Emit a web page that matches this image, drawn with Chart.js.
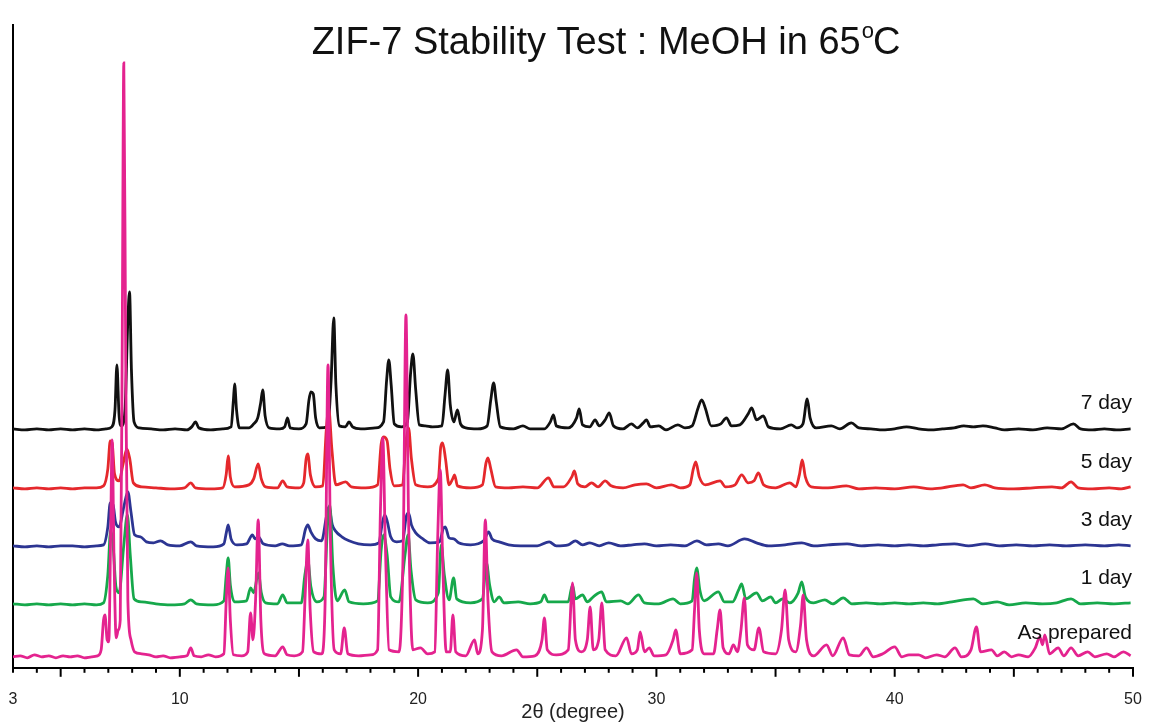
<!DOCTYPE html>
<html>
<head>
<meta charset="utf-8">
<title>ZIF-7 Stability Test</title>
<script src="https://cdn.jsdelivr.net/npm/chart.js@4.4.1/dist/chart.umd.min.js"></script>
<style>
  body { margin: 0; background: #fff; }
</style>
</head>
<body>
<canvas id="xrd" width="1149" height="724"></canvas>
<script>
// series names, top to bottom as labelled at the right
var seriesNames = ["As prepared", "1 day", "3 day", "5 day", "7 day"];
// vertical stacking offset of each pattern (intensity units)
var baselines = [8, 63, 121, 179, 238];
var xTickLabels = [3, 10, 20, 30, 40, 50];

// [2theta, intensity above own baseline]
var asPrepared = [[3.0,3],[3.3,4],[3.6,2],[3.9,5],[4.2,3],[4.5,4],[4.8,2],[5.1,4],[5.4,3],[5.7,4],[6.0,2],[6.3,3],[6.55,4],[6.7,10],[6.8,40],[6.86,45],[6.95,20],[7.02,18],[7.1,130],[7.16,220],[7.24,100],[7.33,22],[7.42,30],[7.5,40],[7.58,300],[7.65,597],[7.73,300],[7.82,60],[7.95,20],[8.1,8],[8.4,6],[8.7,5],[9.0,3],[9.3,4],[9.6,2],[10.0,3],[10.3,4],[10.46,12],[10.6,4],[10.9,3],[11.2,5],[11.5,3],[11.85,6],[11.95,60],[12.03,92],[12.12,40],[12.25,5],[12.6,4],[12.85,8],[12.97,47],[13.07,20],[13.18,60],[13.29,140],[13.4,40],[13.55,6],[14.0,4],[14.32,13],[14.5,5],[14.8,4],[15.15,8],[15.27,70],[15.37,120],[15.47,50],[15.62,8],[15.95,6],[16.1,60],[16.22,295],[16.32,120],[16.48,10],[16.75,6],[16.9,32],[17.05,6],[17.5,4],[18.0,5],[18.3,10],[18.42,150],[18.52,222],[18.62,120],[18.78,10],[19.2,8],[19.38,120],[19.49,345],[19.6,140],[19.78,10],[20.1,12],[20.4,6],[20.7,8],[20.82,120],[20.93,190],[21.03,100],[21.18,8],[21.35,8],[21.46,45],[21.58,8],[22.0,4],[22.37,20],[22.5,6],[22.7,30],[22.82,140],[22.93,60],[23.1,8],[23.5,4],[24.13,10],[24.4,3],[24.9,4],[25.2,20],[25.3,42],[25.42,10],[25.8,5],[26.3,10],[26.48,77],[26.6,20],[26.85,8],[27.1,20],[27.22,53],[27.35,10],[27.58,20],[27.71,57],[27.85,10],[28.3,4],[28.75,22],[28.95,6],[29.2,10],[29.32,28],[29.5,8],[29.7,12],[29.9,4],[30.4,5],[30.7,20],[30.81,30],[31.0,6],[31.5,10],[31.6,50],[31.69,87],[31.8,30],[32.0,6],[32.4,6],[32.55,30],[32.67,50],[32.8,12],[33.05,6],[33.23,15],[33.4,8],[33.55,30],[33.69,62],[33.82,15],[34.1,10],[34.3,32],[34.5,8],[35.0,6],[35.25,30],[35.4,70],[35.55,20],[35.85,8],[36.05,35],[36.16,65],[36.3,20],[36.6,4],[37.14,15],[37.4,4],[37.84,22],[38.1,5],[38.5,4],[38.82,12],[39.1,3],[39.5,6],[40.0,13],[40.3,3],[40.6,5],[41.0,5],[41.3,2],[41.76,5],[42.1,3],[42.53,12],[42.8,3],[43.2,10],[43.43,33],[43.6,8],[44.06,10],[44.3,4],[44.6,8],[44.9,3],[45.2,5],[45.6,3],[45.9,12],[46.09,23],[46.2,15],[46.3,25],[46.5,6],[46.86,12],[47.1,4],[47.4,12],[47.7,4],[48.1,8],[48.4,3],[48.9,6],[49.2,3],[49.6,8],[49.9,4]];

var day1 = [[3.0,1],[3.5,0],[4.0,1],[4.5,0],[5.0,1],[5.5,0],[6.0,1],[6.5,0],[6.8,2],[6.98,30],[7.1,75],[7.2,60],[7.32,18],[7.45,12],[7.65,60],[7.8,90],[7.92,50],[8.08,6],[8.4,3],[9.0,1],[9.6,0],[10.2,1],[10.46,5],[10.7,1],[11.4,0],[11.85,4],[11.95,30],[12.03,47],[12.12,20],[12.3,3],[12.8,4],[12.97,17],[13.1,12],[13.3,32],[13.42,12],[13.6,2],[14.1,1],[14.32,10],[14.5,2],[15.1,2],[15.25,30],[15.37,45],[15.5,18],[15.75,3],[16.05,8],[16.2,80],[16.3,100],[16.42,40],[16.6,4],[16.92,15],[17.1,3],[17.7,1],[18.3,4],[18.45,55],[18.55,70],[18.7,50],[18.85,8],[19.2,3],[19.45,50],[19.58,70],[19.7,35],[19.9,5],[20.4,2],[20.85,12],[20.97,60],[21.1,30],[21.3,5],[21.49,27],[21.62,6],[22.2,2],[22.7,6],[22.87,42],[23.0,20],[23.2,3],[23.4,8],[23.6,2],[24.2,3],[24.7,1],[25.15,3],[25.3,10],[25.45,3],[26.3,3],[26.48,20],[26.6,6],[26.9,10],[27.1,3],[27.35,8],[27.7,13],[27.9,3],[28.5,4],[28.8,1],[29.25,10],[29.5,2],[30.1,1],[30.7,6],[31.0,1],[31.5,4],[31.6,26],[31.69,37],[31.82,15],[32.0,4],[32.6,13],[32.85,3],[33.2,3],[33.45,15],[33.58,21],[33.75,6],[34.2,12],[34.45,4],[34.8,8],[35.0,2],[35.3,6],[35.6,2],[35.95,12],[36.1,23],[36.25,8],[36.6,2],[37.07,5],[37.4,1],[37.84,7],[38.2,1],[38.8,2],[39.4,1],[40.0,2],[40.6,1],[41.2,2],[41.8,1],[42.4,3],[43.3,6],[43.7,1],[44.3,3],[44.8,0],[45.5,2],[46.2,1],[46.8,2],[47.4,6],[47.8,1],[48.5,2],[49.2,1],[49.9,2]];

var day3 = [[3.0,1],[3.5,0],[4.0,1],[4.5,0],[5.0,1],[5.5,1],[6.0,0],[6.5,1],[6.8,2],[6.98,20],[7.08,44],[7.2,42],[7.3,25],[7.45,20],[7.65,40],[7.82,55],[7.95,35],[8.1,12],[8.35,10],[8.6,5],[8.9,4],[9.19,6],[9.5,2],[10.0,1],[10.46,5],[10.7,1],[11.4,0],[11.85,3],[11.95,14],[12.03,22],[12.15,8],[12.4,2],[12.8,3],[13.05,12],[13.15,8],[13.3,10],[13.5,3],[14.0,1],[14.3,3],[14.6,1],[15.1,2],[15.28,18],[15.37,22],[15.5,15],[15.7,8],[15.95,6],[16.15,30],[16.25,40],[16.4,22],[16.53,16],[16.8,10],[17.1,6],[17.5,3],[18.0,2],[18.35,4],[18.5,24],[18.6,32],[18.7,26],[18.85,10],[19.1,5],[19.35,6],[19.5,30],[19.6,34],[19.72,22],[19.9,14],[20.2,8],[20.5,4],[20.9,5],[21.05,18],[21.14,20],[21.3,9],[21.5,8],[21.7,4],[22.2,2],[22.75,6],[22.96,15],[23.1,8],[23.4,5],[23.8,2],[24.3,1],[25.0,1],[25.5,5],[25.8,1],[26.3,2],[26.6,6],[26.9,2],[27.2,4],[27.6,1],[28.0,4],[28.5,1],[29.0,2],[29.5,3],[30.0,1],[30.6,2],[31.2,1],[31.7,6],[32.1,2],[32.6,3],[33.0,1],[33.7,8],[34.2,4],[34.7,1],[35.4,2],[36.1,4],[36.6,1],[37.2,2],[38.0,3],[38.6,1],[39.3,2],[40.0,1],[40.6,2],[41.2,1],[41.8,2],[42.5,3],[43.1,1],[43.8,3],[44.4,1],[45.1,2],[45.8,1],[46.5,2],[47.2,1],[48.0,2],[48.8,1],[49.4,2],[49.9,1]];

var day5 = [[3.0,1],[3.5,0],[4.0,1],[4.5,0],[5.0,1],[5.5,0],[6.0,1],[6.5,1],[6.8,3],[6.98,20],[7.08,48],[7.16,46],[7.26,15],[7.45,8],[7.62,25],[7.78,40],[7.9,30],[8.05,6],[8.4,2],[9.0,1],[9.6,0],[10.2,1],[10.46,6],[10.65,1],[11.3,0],[11.8,1],[11.95,15],[12.03,33],[12.12,12],[12.3,2],[12.9,4],[13.1,10],[13.29,25],[13.42,10],[13.6,2],[14.1,1],[14.32,8],[14.5,2],[15.0,1],[15.2,6],[15.3,30],[15.37,35],[15.48,14],[15.7,2],[16.0,3],[16.15,60],[16.25,80],[16.38,40],[16.55,4],[16.96,7],[17.2,2],[17.8,1],[18.3,4],[18.45,45],[18.55,52],[18.7,48],[18.82,20],[19.0,3],[19.35,4],[19.48,45],[19.6,61],[19.72,30],[19.9,4],[20.4,2],[20.85,10],[20.95,42],[21.03,46],[21.15,30],[21.3,4],[21.45,10],[21.53,14],[21.65,3],[22.2,1],[22.7,4],[22.85,26],[22.93,31],[23.05,20],[23.25,2],[23.8,1],[24.4,2],[25.0,1],[25.47,11],[25.7,2],[26.1,2],[26.45,12],[26.56,18],[26.7,5],[27.0,2],[27.28,6],[27.55,2],[27.85,8],[28.1,3],[28.6,1],[29.1,4],[29.58,5],[30.0,1],[30.63,4],[31.0,1],[31.4,4],[31.55,20],[31.65,27],[31.8,12],[32.05,4],[32.67,8],[32.9,2],[33.3,4],[33.58,14],[33.85,6],[34.1,8],[34.28,16],[34.5,4],[35.0,1],[35.6,6],[35.85,2],[36.0,14],[36.12,29],[36.25,12],[36.5,2],[37.2,1],[37.97,3],[38.5,0],[39.2,1],[40.0,0],[40.8,2],[41.5,0],[42.0,1],[42.87,4],[43.2,1],[43.78,4],[44.2,1],[45.0,0],[45.8,1],[46.6,2],[47.0,1],[47.4,7],[47.7,1],[48.3,0],[49.0,1],[49.5,0],[49.9,2]];

var day7 = [[3.0,1],[3.5,0],[4.0,1],[4.5,0],[5.0,1],[5.5,0],[6.0,1],[6.5,0],[6.9,1],[7.15,3],[7.28,20],[7.36,65],[7.45,15],[7.55,4],[7.7,20],[7.82,110],[7.89,138],[7.97,60],[8.08,8],[8.3,2],[8.8,1],[9.3,0],[9.8,1],[10.3,0],[10.5,3],[10.66,8],[10.8,2],[11.3,0],[11.8,1],[12.15,3],[12.25,30],[12.3,46],[12.38,20],[12.5,2],[12.9,2],[13.1,6],[13.27,12],[13.4,28],[13.48,40],[13.58,14],[13.75,2],[14.2,1],[14.4,3],[14.52,12],[14.63,2],[15.0,1],[15.3,6],[15.42,30],[15.5,38],[15.6,36],[15.7,12],[15.85,2],[16.2,3],[16.35,50],[16.46,112],[16.55,45],[16.7,4],[16.95,3],[17.1,8],[17.25,3],[17.6,1],[18.2,2],[18.55,8],[18.68,50],[18.77,70],[18.87,45],[19.0,6],[19.3,3],[19.55,8],[19.68,55],[19.78,76],[19.9,40],[20.05,5],[20.3,4],[20.6,3],[21.0,4],[21.13,35],[21.24,60],[21.35,25],[21.5,8],[21.65,20],[21.78,6],[22.0,2],[22.5,1],[22.9,4],[23.05,30],[23.17,47],[23.28,28],[23.45,3],[24.0,1],[24.4,4],[24.7,1],[25.3,1],[25.55,8],[25.68,15],[25.8,4],[26.3,2],[26.65,12],[26.76,21],[26.9,5],[27.2,3],[27.43,10],[27.6,4],[27.85,10],[28.02,17],[28.2,4],[28.6,1],[28.95,6],[29.2,2],[29.45,7],[29.58,10],[29.75,3],[30.1,4],[30.4,0],[30.9,5],[31.2,2],[31.5,4],[31.75,22],[31.9,30],[32.05,22],[32.3,4],[32.7,6],[32.94,12],[33.15,4],[33.5,5],[33.85,16],[34.0,22],[34.2,10],[34.49,14],[34.7,3],[35.2,1],[35.66,5],[35.9,2],[36.15,6],[36.33,31],[36.45,12],[36.7,2],[37.34,4],[37.7,1],[38.18,7],[38.5,2],[39.0,1],[39.5,0],[40.0,1],[40.5,3],[41.0,1],[41.5,0],[42.0,1],[42.5,2],[42.9,4],[43.3,3],[43.7,4],[44.2,2],[44.6,0],[45.2,1],[45.8,0],[46.4,2],[47.0,1],[47.5,6],[47.8,1],[48.3,0],[48.8,1],[49.3,0],[49.9,1]];

var patterns = [asPrepared, day1, day3, day5, day7];
var lineColors = ["#e4238f", "#16a84b", "#2c3592", "#e5282c", "#111111"];

var font = '"Liberation Sans", Arial, sans-serif';

// title, tick marks and the series names on the right
var decor = {
  id: "decor",
  afterDraw: function (chart) {
    var ctx = chart.ctx;
    var xs = chart.scales.x, ys = chart.scales.y;
    ctx.save();

    ctx.strokeStyle = "#000";
    ctx.lineWidth = 2;
    for (var v = 3; v <= 50; v++) {
      var px = xs.getPixelForValue(v);
      var len = (v % 5 === 0) ? 9 : 5;
      ctx.beginPath();
      ctx.moveTo(px, ys.bottom);
      ctx.lineTo(px, ys.bottom + len);
      ctx.stroke();
    }

    ctx.fillStyle = "#111";
    ctx.font = "21px " + font;
    ctx.textAlign = "right";
    ctx.textBaseline = "middle";
    seriesNames.forEach(function (name, i) {
      ctx.fillText(name, xs.right - 1, ys.getPixelForValue(baselines[i]) - 27);
    });

    // title with a raised "o" for the degree sign
    var main = "ZIF-7 Stability Test : MeOH in 65";
    ctx.textAlign = "left";
    ctx.textBaseline = "alphabetic";
    ctx.font = "38px " + font;
    var w1 = ctx.measureText(main).width;
    var wC = ctx.measureText("C").width;
    ctx.font = "22px " + font;
    var wo = ctx.measureText("o").width;
    var x0 = 606 - (w1 + wo + wC) / 2;
    ctx.font = "38px " + font;
    ctx.fillText(main, x0, 54);
    ctx.fillText("C", x0 + w1 + wo, 54);
    ctx.font = "22px " + font;
    ctx.fillText("o", x0 + w1 + 1, 38);

    ctx.restore();
  }
};

var datasets = patterns.map(function (pts, i) {
  return {
    label: seriesNames[i],
    data: pts.map(function (p) { return { x: p[0], y: baselines[i] + p[1] }; }),
    borderColor: lineColors[i],
    borderWidth: 2.8,
    pointRadius: 0,
    cubicInterpolationMode: "monotone",
    fill: false
  };
});

new Chart(document.getElementById("xrd"), {
  type: "line",
  data: { datasets: datasets },
  options: {
    responsive: false,
    animation: false,
    layout: { padding: { left: 13, right: 16, top: 25, bottom: 0 } },
    plugins: { legend: { display: false }, tooltip: { enabled: false }, title: { display: false } },
    scales: {
      x: {
        type: "linear",
        min: 3,
        max: 50,
        afterBuildTicks: function (axis) {
          axis.ticks = xTickLabels.map(function (v) { return { value: v }; });
        },
        ticks: { color: "#222", padding: 0, font: { size: 16, family: font }, maxRotation: 0 },
        // invisible tick marks only push the labels down; visible marks come from the plugin
        grid: { display: true, drawOnChartArea: false, drawTicks: true, tickLength: 22, tickColor: "rgba(0,0,0,0)" },
        border: { display: true, color: "#000", width: 2 },
        title: {
          display: true,
          text: "2θ (degree)",
          color: "#222",
          font: { size: 20, family: font },
          padding: { top: -9, bottom: 0 }
        }
      },
      y: {
        min: 0,
        max: 643,
        ticks: { display: false },
        grid: { display: true, drawOnChartArea: false, drawTicks: false },
        border: { display: true, color: "#000", width: 2 }
      }
    }
  },
  plugins: [decor]
});
</script>
</body>
</html>
